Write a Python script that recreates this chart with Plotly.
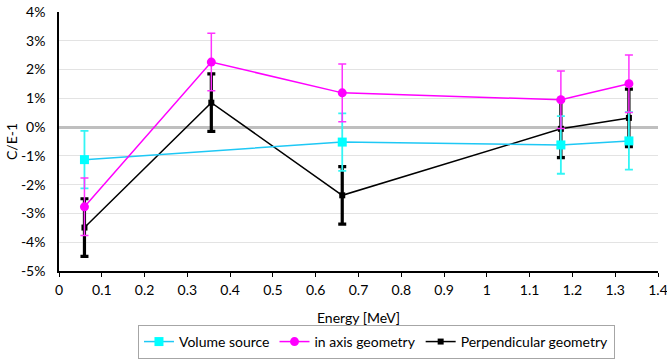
import plotly.graph_objects as go

# Data (values in percent)
vol_x = [0.0595, 0.662, 1.173, 1.332]
vol_y = [-1.13, -0.52, -0.62, -0.48]
vol_err = [1.0, 1.0, 1.0, 1.0]

axis_x = [0.0595, 0.356, 0.662, 1.173, 1.332]
axis_y = [-2.77, 2.26, 1.19, 0.95, 1.51]
axis_err = [1.0, 1.0, 1.0, 1.0, 1.0]

perp_x = [0.0595, 0.356, 0.662, 1.173, 1.332]
perp_y = [-3.49, 0.85, -2.37, -0.06, 0.32]
perp_err = [1.0, 1.0, 1.0, 1.0, 1.0]

x_ticks = [0, 0.1, 0.2, 0.3, 0.4, 0.5, 0.6, 0.7, 0.8, 0.9, 1, 1.1, 1.2, 1.3, 1.4]
x_ticklabels = ["0", "0.1", "0.2", "0.3", "0.4", "0.5", "0.6", "0.7", "0.8", "0.9", "1", "1.1", "1.2", "1.3", "1.4"]
y_ticks = [-5, -4, -3, -2, -1, 0, 1, 2, 3, 4]
y_ticklabels = ["-5%", "-4%", "-3%", "-2%", "-1%", "0%", "1%", "2%", "3%", "4%"]

FONT = "Lato, 'Noto Sans', sans-serif"

fig = go.Figure()

fig.add_trace(go.Scatter(
    x=perp_x, y=perp_y, name="Perpendicular geometry", mode="lines+markers",
    line=dict(color="black", width=1.5),
    marker=dict(symbol="square", size=6, color="black"),
    error_y=dict(type="data", array=perp_err, color="black", thickness=3.2, width=4),
    legendrank=3,
))
fig.add_trace(go.Scatter(
    x=vol_x, y=vol_y, name="Volume source", mode="lines+markers",
    line=dict(color="#1EC8F5", width=1.5),
    marker=dict(symbol="square", size=9, color="#00FFFF"),
    error_y=dict(type="data", array=vol_err, color="#33F5F5", thickness=1.8, width=4),
    legendrank=1,
))
fig.add_trace(go.Scatter(
    x=axis_x, y=axis_y, name="in axis geometry", mode="lines+markers",
    line=dict(color="#FF00FF", width=1.5),
    marker=dict(symbol="circle", size=9, color="#FF00FF"),
    error_y=dict(type="data", array=axis_err, color="#FF33FF", thickness=1.5, width=4),
    legendrank=2,
))

fig.update_layout(
    width=667, height=359,
    margin=dict(l=59, r=9, t=12, b=88, autoexpand=False),
    paper_bgcolor="white", plot_bgcolor="white",
    font=dict(family=FONT, size=14, color="black"),
    showlegend=True,
    legend=dict(
        orientation="h", x=0.53, xanchor="center", y=-0.274, yanchor="middle",
        bordercolor="#A6A6A6", borderwidth=1, font=dict(size=14),
        traceorder="normal", itemwidth=30,
    ),
    xaxis=dict(
        range=[0, 1.4], tickvals=x_ticks, ticktext=x_ticklabels,
        showgrid=False, zeroline=False, automargin=False,
        showline=True, linecolor="black", linewidth=1.5,
        ticks="outside", ticklen=4, tickcolor="black", ticklabelstandoff=1,
        ticklabeloverflow="allow",
        title=dict(text="Energy [MeV]", font=dict(size=14), standoff=17),
    ),
    yaxis=dict(
        range=[-5, 4], tickvals=y_ticks, ticktext=y_ticklabels,
        showgrid=True, gridcolor="#E3E3E3", gridwidth=1,
        zeroline=True, zerolinecolor="#BFBFBF", zerolinewidth=3,
        showline=True, linecolor="black", linewidth=1.5, automargin=False,
        ticks="", ticklabelstandoff=9, ticklabeloverflow="allow",
        title=dict(text="C/E-1", font=dict(size=14), standoff=0),
    ),
)

fig.write_html("out.html", config={"displayModeBar": False},
               post_script="document.body.style.margin='0px';")
